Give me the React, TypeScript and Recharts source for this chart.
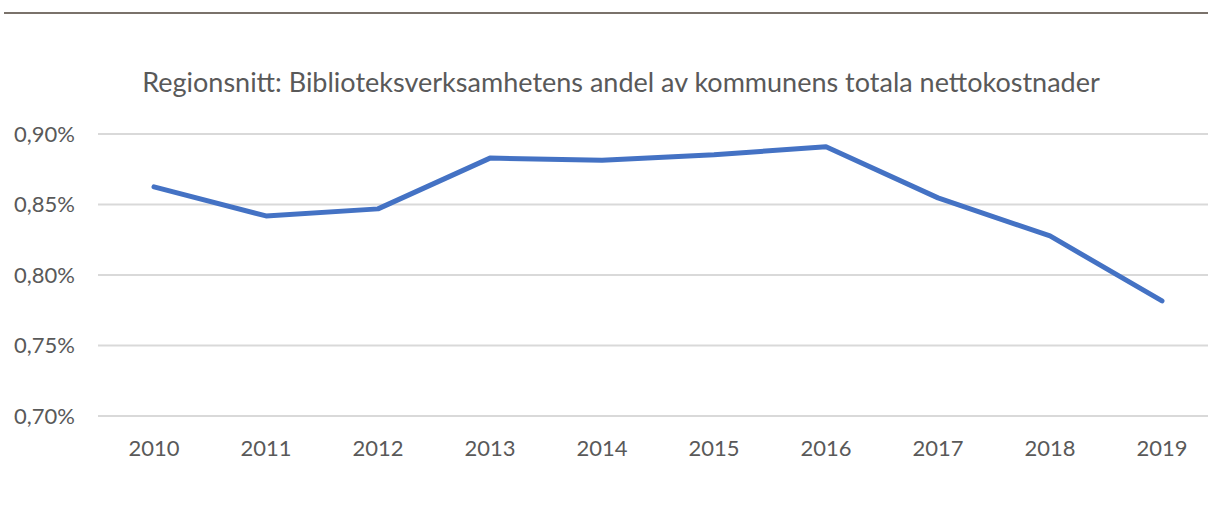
import { LineChart, Line, XAxis, YAxis, CartesianGrid } from 'recharts';

const years = ['2010', '2011', '2012', '2013', '2014', '2015', '2016', '2017', '2018', '2019'];
const andel = [0.8625, 0.8419, 0.8469, 0.8829, 0.8814, 0.8853, 0.891, 0.8547, 0.8277, 0.7816];
const yTicks = [0.7, 0.75, 0.8, 0.85, 0.9];

const data = years.map((year, i) => ({ year, andel: andel[i] }));

const fmt = (v: number) => v.toFixed(2).replace('.', ',') + '%';

export default function App() {
  return (
    <div
      style={{
        position: 'fixed',
        left: 0,
        top: 0,
        width: 1208,
        height: 515,
        overflow: 'hidden',
        background: '#fff',
        fontFamily: 'Lato, sans-serif',
      }}
    >
      <div style={{ position: 'absolute', left: 4, right: 0, top: 12, height: 2, background: '#7a726b' }} />
      <div
        style={{
          position: 'absolute',
          left: 0,
          width: 1242,
          top: 65,
          textAlign: 'center',
          fontSize: 27,
          color: '#595959',
        }}
      >
        Regionsnitt: Biblioteksverksamhetens andel av kommunens totala nettokostnader
      </div>
      <LineChart
        width={1230}
        height={515}
        data={data}
        margin={{ top: 134, right: 12, bottom: 0, left: 0 }}
      >
        <CartesianGrid vertical={false} stroke="#d9d9d9" strokeWidth={2} />
        <XAxis
          dataKey="year"
          axisLine={false}
          tickLine={false}
          height={99}
          padding={{ left: 56, right: 56 }}
          tick={{ fill: '#595959', fontSize: 22 }}
          dy={16}
        />
        <YAxis
          domain={[0.7, 0.9]}
          ticks={yTicks}
          tickFormatter={fmt}
          axisLine={false}
          tickLine={false}
          width={98}
          tick={{ fill: '#595959', fontSize: 22 }}
          dx={-15}
        />
        <Line
          type="linear"
          dataKey="andel"
          stroke="#4472c4"
          strokeWidth={5}
          strokeLinecap="round"
          strokeLinejoin="round"
          dot={false}
          isAnimationActive={false}
        />
      </LineChart>
    </div>
  );
}
